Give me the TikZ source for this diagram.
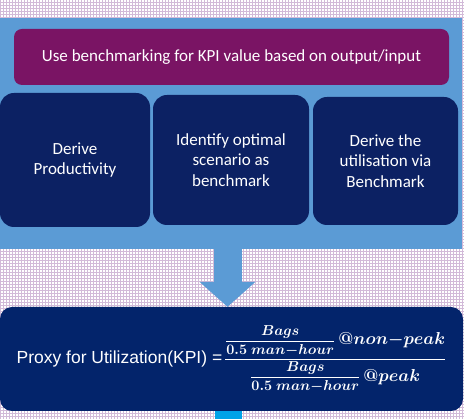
\documentclass[tikz,border=0pt]{standalone}
\usepackage[no-math]{fontspec}
\usepackage{amsmath,bm}
\setmainfont{Carlito}
\newfontfamily\arialfont{Liberation Sans}
\usetikzlibrary{arrows.meta, patterns}
\definecolor{panelblue}{HTML}{5B9BD5}
\definecolor{plumbox}{HTML}{7A1464}
\definecolor{navybox}{HTML}{0C2163}
\definecolor{proxynavy}{HTML}{03246B}
\definecolor{stubblue}{HTML}{00A2E8}
\definecolor{gridlilac}{HTML}{D2BAD8}
\newcommand{\bagsrate}{\mbox{\fontsize{14.4}{16}\selectfont$\displaystyle\frac{\boldsymbol{Bags}}{\boldsymbol{0.5\;man{-}hour}}$}}

\begin{document}
\begin{tikzpicture}[x=1pt, y=-1pt,
  stepbox/.style={rectangle, rounded corners=14pt, fill=navybox, text=white, align=center,
    font=\fontsize{17}{20.5}\selectfont, inner sep=0pt}]
% Background with grid
\fill[white] (0,0) rectangle (464,419);
\fill[pattern=grid, pattern color=gridlilac] (0,0) rectangle (464,419);
\useasboundingbox (0,0) rectangle (464,419);
% Blue panel with the three steps
\node[rectangle, fill=panelblue, minimum width=462pt, minimum height=231pt, inner sep=0pt, anchor=north west] (panel) at (0,18) {};
\node[rectangle, rounded corners=8pt, fill=plumbox, text=white, minimum width=435pt, minimum height=56pt,
  font=\fontsize{17}{20}\selectfont] (usebench) at (231.5,57) {Use benchmarking for KPI value based on output/input};
\node[stepbox, minimum width=150pt, minimum height=134pt] (derive) at (75,160) {Derive\\Productivity};
\node[stepbox, minimum width=156pt, minimum height=130pt] (identify) at (231,160) {Identify optimal\\scenario as\\benchmark};
\node[stepbox, minimum width=145pt, minimum height=128pt] (utilise) at (385.5,161) {Derive the\\utilisation via\\Benchmark};
% Result box
\node[rectangle, rounded corners=12pt, fill=proxynavy, text=white, minimum width=463pt, minimum height=104pt] (proxy) at (231.5,359)
  {{\arialfont\fontsize{17.5}{21}\selectfont Proxy for Utilization(KPI) =}\,{\fontsize{17.28}{20}\selectfont
   $\dfrac{\bagsrate\,\boldsymbol{@non{-}peak}}{\bagsrate\,\boldsymbol{@peak}}$}};
% Arrow from panel to result
\coordinate (arrowx) at (227.5,0);
\draw[panelblue, line width=28pt, -{Triangle[width=56pt, length=25pt, line width=0pt]}] (arrowx |- panel.south) -- (arrowx |- proxy.north);
% Stub below result
\coordinate (stubx) at (228.5,0);
\coordinate (pagebottom) at (0,419);
\draw[stubblue, line width=27pt] (stubx |- proxy.south) -- (stubx |- pagebottom);
\end{tikzpicture}
\end{document}
